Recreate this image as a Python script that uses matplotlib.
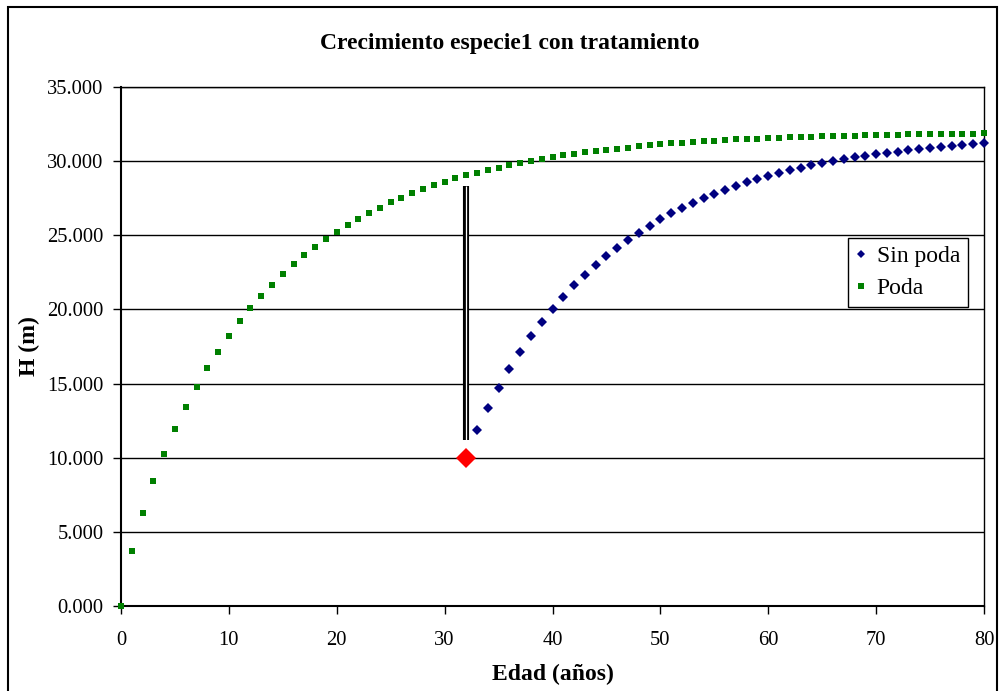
import matplotlib
matplotlib.use("Agg")
import matplotlib.pyplot as plt
import matplotlib.patches as mpatches
from matplotlib.ticker import FuncFormatter, MultipleLocator

plt.rcParams['font.family'] = ['Liberation Serif', 'DejaVu Serif']

# Data
edad_poda = list(range(0, 81))
h_poda = [0.0, 3.73, 6.28, 8.41, 10.28, 11.93, 13.44, 14.80, 16.05, 17.16,
          18.23, 19.20, 20.08, 20.92, 21.66, 22.40, 23.05, 23.65, 24.21, 24.74,
          25.20, 25.69, 26.10, 26.51, 26.86, 27.22, 27.53, 27.83, 28.09, 28.36,
          28.61, 28.83, 29.04, 29.22, 29.39, 29.57, 29.73, 29.89, 30.02, 30.16,
          30.27, 30.40, 30.49, 30.61, 30.70, 30.76, 30.85, 30.92, 30.99, 31.07,
          31.13, 31.21, 31.25, 31.32, 31.36, 31.38, 31.43, 31.47, 31.50, 31.52,
          31.56, 31.58, 31.61, 31.63, 31.65, 31.67, 31.70, 31.72, 31.72, 31.74,
          31.76, 31.76, 31.79, 31.81, 31.81, 31.83, 31.83, 31.83, 31.85, 31.85,
          31.88]

edad_sin = list(range(33, 81))
h_sin = [11.84, 13.36, 14.73, 15.99, 17.11, 18.18, 19.15, 20.04, 20.87, 21.64,
         22.33, 22.98, 23.59, 24.17, 24.71, 25.18, 25.65, 26.07, 26.47, 26.85,
         27.19, 27.50, 27.81, 28.08, 28.33, 28.57, 28.79, 29.02, 29.20, 29.38,
         29.55, 29.71, 29.87, 30.00, 30.13, 30.25, 30.36, 30.47, 30.56, 30.65,
         30.74, 30.83, 30.89, 30.96, 31.03, 31.09, 31.14, 31.21]

poda_x = [32]
poda_y = [10.0]
barra_x = 32
barra_y = [11.2, 28.35]

title = "Crecimiento especie1 con tratamiento"
xlabel = "Edad (años)"
ylabel = "H (m)"

fig = plt.figure(figsize=(10, 6.91), dpi=100)
ax = fig.add_axes([0.121, 1 - 606/691, 0.863, (606 - 87)/691])

# Outer chart frame
frame = mpatches.Rectangle((8/1000, -0.02), (997 - 8)/1000, (1 - 7/691) + 0.02,
                           transform=fig.transFigure, fill=False,
                           edgecolor='black', linewidth=1.5, clip_on=False)
fig.patches.append(frame)

ax.set_xlim(0, 80)
ax.set_ylim(0, 35)
ax.xaxis.set_major_locator(MultipleLocator(10))
ax.yaxis.set_major_locator(MultipleLocator(5))
ax.yaxis.set_major_formatter(FuncFormatter(lambda v, p: f"{v:.3f}"))
ax.grid(axis='y', color='black', linewidth=1.0)
ax.set_axisbelow(True)

for s in ax.spines.values():
    s.set_color('black')
    s.set_linewidth(1.0)
ax.spines['left'].set_linewidth(1.5)
ax.spines['bottom'].set_linewidth(1.5)

ax.tick_params(axis='both', direction='out', length=6, width=1, color='black',
               labelsize=14.8)
ax.tick_params(axis='y', pad=6.5)
ax.tick_params(axis='x', pad=12)

# Vertical double bar
ax.plot([barra_x, barra_x], barra_y, color='black', linewidth=4.4,
        solid_capstyle='butt', zorder=3)
ax.plot([barra_x, barra_x], barra_y, color='white', linewidth=0.9,
        solid_capstyle='butt', zorder=3.1)

ax.plot(edad_poda, h_poda, linestyle='none', marker='s', markersize=4.4,
        color='#008000', markeredgewidth=0, label='Poda', clip_on=False, zorder=4)
ax.plot(edad_sin, h_sin, linestyle='none', marker='D', markersize=5.3,
        color='#000080', markeredgewidth=0, label='Sin poda', clip_on=False, zorder=4)
ax.plot(poda_x, poda_y, linestyle='none', marker='D', markersize=10.5,
        color='#FF0000', markeredgewidth=0, clip_on=False, zorder=5)

handles, labels = ax.get_legend_handles_labels()
order = [1, 0]
leg = ax.legend([handles[i] for i in order], [labels[i] for i in order],
                loc='upper right', bbox_to_anchor=((968 - 121)/863, (606 - 238)/519),
                fontsize=17, frameon=True, fancybox=False, framealpha=1,
                edgecolor='black', handlelength=0.5, handletextpad=0.4,
                borderpad=0.33, labelspacing=0.42, borderaxespad=0,
                markerscale=0.85)
leg.get_frame().set_linewidth(1.0)

fig.text(0.510, 1 - 43/691, title, ha='center', va='center',
         fontsize=17, fontweight='bold')
fig.text(0.553, 1 - 674/691, xlabel, ha='center', va='center',
         fontsize=17, fontweight='bold')
fig.text(0.029, 1 - 346/691, ylabel, ha='center', va='center',
         fontsize=17, fontweight='bold', rotation=90)

fig.savefig('out.png', dpi=100)
